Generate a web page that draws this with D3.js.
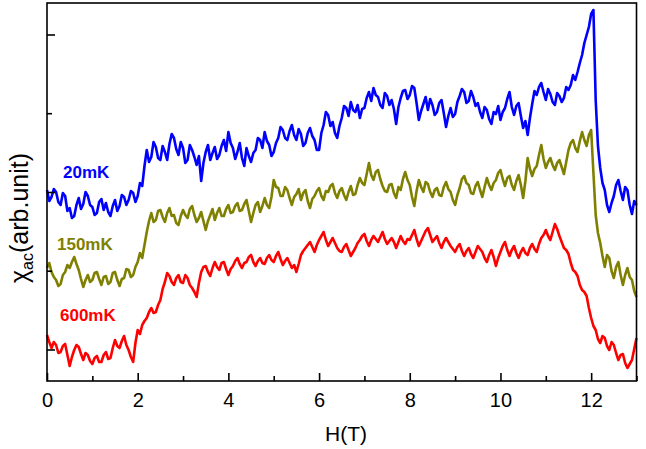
<!DOCTYPE html>
<html><head><meta charset="utf-8">
<script src="https://cdn.jsdelivr.net/npm/d3@7"></script>
<style>html,body{margin:0;padding:0;background:#fff;}svg{display:block;font-family:"Liberation Sans",Arial,sans-serif;}</style>
</head><body><svg id="c" width="646" height="449"></svg>
<script>
// Field H (T), sampled every 0.05 T from 0 to 13
const H = d3.range(0, 261).map(i => +(i * 0.05).toFixed(2));
// chi_ac in arbitrary units
const chi20mK = [
19.1,18.0,18.4,19.2,18.9,17.9,17.6,18.8,18.5,17.0,17.3,16.3,16.5,17.6,18.3,17.2,17.7,18.9,18.5,17.6,
17.4,16.6,16.8,17.9,18.2,17.1,17.8,16.9,16.5,17.5,18.1,17.0,17.5,18.6,18.4,17.6,18.1,19.0,18.8,17.9,
18.5,19.8,19.5,21.5,23.1,21.9,22.4,23.9,23.4,22.3,22.1,23.5,22.9,22.1,23.7,24.7,24.3,23.2,22.6,23.9,
23.3,21.8,22.1,23.6,23.1,22.4,21.6,22.5,20.0,21.8,22.9,23.6,22.1,22.8,23.4,22.2,22.6,23.5,24.1,23.0,
24.9,23.8,23.3,22.2,22.9,23.8,22.3,21.5,23.3,22.5,21.9,22.8,23.1,24.3,24.1,23.3,24.9,24.0,23.6,22.5,
22.9,23.8,24.3,25.4,25.1,24.3,24.1,25.0,25.6,24.6,24.1,25.2,24.7,23.5,23.8,24.8,25.3,24.5,24.1,23.1,
23.1,24.8,25.6,26.9,26.6,25.5,25.9,24.8,24.3,25.5,26.3,27.5,27.3,26.5,27.9,27.1,26.9,27.6,26.3,27.2,
27.3,28.3,28.9,28.0,29.3,28.6,28.4,27.6,27.3,28.8,28.5,27.6,28.1,27.2,25.7,27.4,28.3,29.0,29.1,28.2,
28.6,29.5,29.3,27.8,26.1,27.0,27.7,28.4,27.1,28.2,27.6,26.6,26.9,27.8,28.1,26.8,25.4,26.5,27.3,26.4,
26.7,27.9,28.5,29.2,28.9,27.8,28.0,29.0,28.4,27.5,27.8,26.9,26.3,27.4,27.1,26.2,25.7,26.9,26.7,27.5,
26.1,26.9,27.3,28.2,28.9,27.4,26.6,27.5,27.8,26.5,25.3,26.0,24.6,26.3,27.7,29.0,28.6,29.4,29.8,28.9,
28.1,29.2,28.7,27.9,27.6,28.8,28.5,27.9,28.3,29.4,29.1,29.6,30.6,30.1,30.9,31.8,32.6,33.8,34.6,35.4,
36.7,37.1,28.1,23.5,21.3,19.8,19.1,17.6,16.9,17.8,18.5,19.6,20.1,19.0,18.1,19.4,19.1,17.6,16.7,18.0,
17.6];
const chi150mK = [
11.3,11.8,10.9,10.4,10.1,9.5,9.7,10.6,10.9,11.6,11.3,11.9,12.4,11.7,11.1,10.2,9.4,10.1,10.6,9.9,
10.1,10.8,10.9,10.2,9.6,10.4,10.5,9.7,9.9,10.8,10.9,10.1,9.5,10.2,10.3,11.2,11.1,10.4,10.6,11.4,
11.9,12.8,12.3,13.6,14.9,16.0,16.8,15.9,16.1,17.0,17.1,16.4,15.9,16.8,17.3,16.5,16.6,15.8,15.6,16.5,
17.1,16.6,16.3,17.2,17.5,16.6,15.9,16.3,16.9,16.0,15.1,16.0,16.6,17.2,16.1,16.8,17.3,16.5,16.5,17.2,
17.6,16.8,16.9,17.5,17.8,17.0,17.1,17.7,18.1,17.0,15.9,16.8,17.6,17.9,16.9,17.5,18.3,17.6,17.3,18.4,
20.1,19.4,19.3,18.5,18.5,19.4,19.1,18.3,17.6,18.4,18.7,19.2,18.1,18.8,19.1,18.0,17.3,18.2,18.5,19.0,
19.3,18.5,18.1,19.0,18.9,19.5,19.7,18.8,18.3,19.0,19.3,18.6,18.1,18.9,19.5,18.6,18.7,19.6,20.3,19.8,
19.6,20.7,21.8,20.6,20.1,20.9,21.1,20.2,19.5,19.0,18.9,19.6,19.7,18.8,18.3,19.4,19.1,20.2,20.9,20.1,
19.6,18.4,17.5,19.0,20.1,19.4,18.9,19.9,19.7,18.9,18.4,19.1,19.3,18.6,18.5,19.4,19.9,19.2,18.9,18.1,
17.6,18.6,19.3,20.2,20.5,19.8,19.6,18.8,18.7,19.5,19.9,19.1,18.4,19.4,20.3,19.6,19.1,19.8,20.1,20.8,
21.1,20.2,19.5,20.3,20.5,19.6,19.1,20.0,20.6,19.6,18.3,20.0,22.3,21.2,20.5,21.2,21.5,22.6,23.6,22.2,
21.3,21.9,22.3,21.6,21.1,21.8,22.1,21.4,20.7,21.9,23.1,23.8,24.1,23.3,22.9,24.0,24.9,24.1,23.5,24.6,
25.1,20.8,16.6,14.8,13.8,12.5,11.4,12.6,12.3,11.0,10.3,11.4,11.9,10.6,9.6,10.6,11.3,10.4,10.1,9.0,
8.4];
const chi600mK = [
4.6,3.9,3.3,3.9,3.6,2.8,2.9,3.5,3.7,2.6,1.5,2.4,3.1,3.6,3.4,2.7,2.1,2.8,2.6,2.0,
1.7,2.3,2.5,1.9,1.9,2.6,2.9,2.2,2.3,3.3,4.1,3.5,3.3,4.0,4.5,3.6,3.1,2.4,1.9,3.8,
5.1,4.7,5.6,6.0,6.3,6.9,7.3,6.8,6.9,7.6,8.1,9.2,9.9,10.8,10.5,9.9,9.6,10.3,10.6,9.9,
9.8,10.6,10.3,9.6,9.3,8.9,8.4,9.8,10.9,11.4,11.5,10.9,10.5,11.3,11.9,11.4,11.1,11.8,11.9,11.2,
10.6,11.2,11.5,12.0,12.3,11.7,11.3,11.8,11.9,12.4,12.6,11.9,11.5,12.0,12.3,11.8,11.7,12.3,12.6,12.1,
11.9,12.5,12.9,12.2,11.6,12.0,12.3,11.8,11.3,11.6,10.9,11.7,12.6,13.0,13.3,13.6,13.9,13.4,12.9,13.6,
14.1,14.5,14.9,14.1,13.5,13.9,14.3,13.8,13.3,13.0,12.9,13.4,13.7,13.1,12.5,12.9,13.3,13.8,14.1,14.5,
14.7,14.0,13.5,14.1,14.5,14.2,13.9,14.4,14.9,14.2,13.7,14.0,14.3,13.9,13.3,13.9,14.5,14.0,13.7,14.2,
14.1,14.6,15.1,14.2,13.5,14.0,14.5,15.0,15.3,14.6,13.9,14.2,14.5,13.8,13.3,13.9,14.3,13.9,13.5,13.2,
12.9,13.4,13.7,13.0,12.5,13.0,13.3,12.7,12.3,12.9,13.5,13.2,12.9,12.3,11.9,12.6,13.1,12.4,11.5,12.3,
12.9,13.5,13.9,13.1,12.5,13.1,13.5,12.8,12.3,12.9,13.3,12.8,12.6,13.3,13.7,13.2,12.9,13.7,14.3,14.6,
15.1,14.5,14.1,14.9,15.7,15.2,14.5,13.9,13.3,13.1,12.7,11.8,11.1,10.9,10.5,9.6,9.1,8.9,8.5,7.3,
6.3,5.5,5.1,4.2,3.8,4.5,4.3,3.5,3.1,3.9,3.6,2.8,2.1,2.6,2.7,1.8,1.3,1.7,2.1,3.2,
4.3];
const seriesNames = ["600mK", "150mK", "20mK"];
const seriesColors = ["#ff0000", "#808000", "#0000ff"];
const xTicks = [0,1,2,3,4,5,6,7,8,9,10,11,12,13];
const xTickLabels = ["0","","2","","4","","6","","8","","10","","12",""];
const yTicks = [3.15, 11.03, 18.9, 26.78, 34.65];

const svg = d3.select("#c");
const L = 47, R = 636.5, T = 3, B = 381;
const x = d3.scaleLinear().domain([0, 13]).range([L, R]);
const y = d3.scaleLinear().domain([0, 37.8]).range([B, T]);

const data = [chi600mK, chi150mK, chi20mK];
const line = d3.line().x((d, i) => x(H[i])).y(d => y(d));
const drawOrder = [1, 2, 0];
drawOrder.forEach(k => {
  svg.append("path").datum(data[k]).attr("d", line)
    .attr("fill", "none").attr("stroke", seriesColors[k])
    .attr("stroke-width", 2.6).attr("stroke-linejoin", "round");
});

// frame
svg.append("rect").attr("x", L).attr("y", T).attr("width", R - L).attr("height", B - T)
  .attr("fill", "none").attr("stroke", "#000").attr("stroke-width", 1.6);

// x axis
const xAxis = d3.axisBottom(x).tickValues(xTicks).tickFormat((d, i) => xTickLabels[i]).tickSizeOuter(0).tickSizeInner(-8);
const gx = svg.append("g").attr("transform", `translate(0,${B})`).call(xAxis);
gx.select(".domain").remove();
gx.selectAll(".tick line").attr("stroke", "#000").attr("stroke-width", 1.6)
  .attr("y2", (d, i) => i % 2 === 0 ? -8 : -5);
gx.selectAll(".tick text").attr("font-size", 20).attr("fill", "#000")
  .attr("font-family", "'Liberation Sans',Arial,sans-serif").attr("dy", 0).attr("y", 26);

// y axis
const yAxis = d3.axisLeft(y).tickValues(yTicks).tickFormat("").tickSizeOuter(0).tickSizeInner(-8);
const gy = svg.append("g").attr("transform", `translate(${L},0)`).call(yAxis);
gy.select(".domain").remove();
gy.selectAll(".tick line").attr("stroke", "#000").attr("stroke-width", 1.6)
  .attr("x2", (d, i) => i % 2 === 0 ? 8 : 5);

// axis titles
svg.append("text").attr("x", 346).attr("y", 441).attr("text-anchor", "middle")
  .attr("font-size", 21).attr("fill", "#000").text("H(T)");
const yl = svg.append("text").attr("transform", "translate(28,218) rotate(-90)")
  .attr("text-anchor", "middle").attr("font-size", 25).attr("fill", "#000");
yl.append("tspan").text("χ");
yl.append("tspan").attr("font-size", 16).attr("dy", 5).text("ac");
yl.append("tspan").attr("dy", -5).text("(arb.unit)");

// series labels
const labelPos = [[60, 321], [57, 250], [63, 178]];
seriesNames.forEach((n, k) => {
  svg.append("text").attr("x", labelPos[k][0]).attr("y", labelPos[k][1])
    .attr("font-size", 17).attr("font-weight", "bold").attr("fill", seriesColors[k]).text(n);
});
</script></body></html>
